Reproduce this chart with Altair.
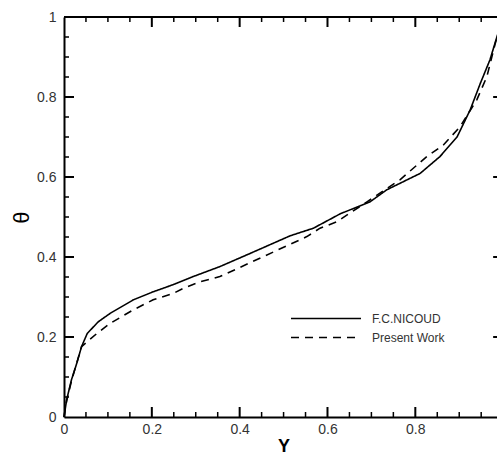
import altair as alt
import pandas as pd

# ---- data ----
series_names = ["F.C.NICOUD", "Present Work"]

nicoud_y = [0.0, 0.006, 0.017, 0.029, 0.040, 0.053, 0.078, 0.105, 0.158, 0.203, 0.249,
            0.294, 0.355, 0.424, 0.515, 0.568, 0.629, 0.697, 0.735, 0.811, 0.856, 0.895,
            0.925, 0.948, 0.970, 0.986, 1.0]
nicoud_theta = [0.0, 0.043, 0.093, 0.134, 0.176, 0.209, 0.238, 0.259, 0.293, 0.313, 0.331,
                0.351, 0.376, 0.409, 0.453, 0.472, 0.508, 0.538, 0.568, 0.609, 0.651, 0.700,
                0.768, 0.834, 0.893, 0.951, 1.0]

present_y = [0.0, 0.006, 0.017, 0.029, 0.040, 0.075, 0.105, 0.158, 0.203, 0.249, 0.272, 0.310,
             0.355, 0.446, 0.553, 0.583, 0.621, 0.690, 0.765, 0.826, 0.864, 0.902, 0.940,
             0.963, 0.982, 1.0]
present_theta = [0.0, 0.040, 0.090, 0.135, 0.176, 0.209, 0.234, 0.268, 0.293, 0.309, 0.322, 0.338,
                 0.351, 0.397, 0.451, 0.472, 0.488, 0.538, 0.593, 0.651, 0.680, 0.726, 0.793,
                 0.851, 0.934, 1.0]

x_labels = [0, 0.2, 0.4, 0.6, 0.8]
y_labels = [0, 0.2, 0.4, 0.6, 0.8, 1.0]
x_major_ticks = [0.2, 0.4, 0.6, 0.8]
x_minor_ticks = [0.05, 0.1, 0.15, 0.25, 0.3, 0.35, 0.45, 0.5, 0.55, 0.65, 0.7, 0.75, 0.85, 0.9, 0.95]
y_major_ticks = [0.2, 0.4, 0.6, 0.8]
y_minor_ticks = [0.05, 0.1, 0.15, 0.25, 0.3, 0.35, 0.45, 0.5, 0.55, 0.65, 0.7, 0.75, 0.85, 0.9, 0.95]

# ---- layout ----
W, H = 433, 400
XMAX = 0.986            # the right edge of the picture cuts the frame just before Y = 1
FONT = "Liberation Sans"
TX_MAJ, TX_MIN = 10 / 439, 5 / 439   # tick lengths in axis units (10 px / 5 px)
TY_MAJ, TY_MIN = 10 / 400, 5 / 400

# one long table: the two curves plus the frame/tick segments (each a 2-point path)
rows = []
for i, (a, b) in enumerate(zip(nicoud_y, nicoud_theta)):
    rows.append({"px": a, "py": b, "series": series_names[0], "sid": "c0", "k": i, "w": 1.6})
for i, (a, b) in enumerate(zip(present_y, present_theta)):
    rows.append({"px": a, "py": b, "series": series_names[1], "sid": "c1", "k": i, "w": 1.6})

n = 0


def seg(x1, y1, x2, y2, w):
    global n
    sid = "t%d" % n
    n += 1
    rows.append({"px": x1, "py": y1, "series": "frame", "sid": sid, "k": 0, "w": w})
    rows.append({"px": x2, "py": y2, "series": "frame", "sid": sid, "k": 1, "w": w})


for v in x_major_ticks:
    seg(v, 0, v, TY_MAJ, 2)
    seg(v, 1, v, 1 - TY_MAJ, 2)
for v in x_minor_ticks:
    seg(v, 0, v, TY_MIN, 1.5)
    seg(v, 1, v, 1 - TY_MIN, 1.5)
for v in y_major_ticks:
    seg(0, v, TX_MAJ, v, 2)
    seg(1 - TX_MAJ, v, XMAX, v, 2)
for v in y_minor_ticks:
    seg(0, v, TX_MIN, v, 1.5)
seg(0, 1, XMAX, 1, 2)
df = pd.DataFrame(rows)

xs = alt.Scale(domain=[0, XMAX], nice=False, zero=False)
ys = alt.Scale(domain=[0, 1], nice=False, zero=False)

x_axis = alt.Axis(
    values=x_labels, format="~g", title="Y", orient="bottom",
    domain=True, domainColor="black", domainWidth=2, ticks=False, grid=False,
    labelFont=FONT, labelFontSize=14, labelColor="#333", labelPadding=5, labelFlush=False,
    titleFont=FONT, titleFontSize=18, titleFontWeight="bold", titleColor="black",
    titleX=219.5, titleY=34, titleBaseline="alphabetic", titleAlign="center")
y_axis = alt.Axis(
    values=y_labels, format="~g", title="θ", orient="left",
    domain=True, domainColor="black", domainWidth=2, ticks=False, grid=False,
    labelFont=FONT, labelFontSize=14, labelColor="#333", labelPadding=8, labelFlush=False,
    titleFont=FONT, titleFontSize=22, titleFontWeight="normal", titleColor="black",
    titleX=-43, titleY=200, titleAngle=270, titleBaseline="middle", titleAlign="center")

chart = alt.Chart(df).mark_line(color="black").encode(
    x=alt.X("px:Q", scale=xs, axis=x_axis),
    y=alt.Y("py:Q", scale=ys, axis=y_axis),
    detail="sid:N",
    order="k:Q",
    strokeWidth=alt.StrokeWidth("w:Q", scale=None, legend=None),
    strokeDash=alt.StrokeDash("series:N",
        scale=alt.Scale(domain=series_names + ["frame"], range=[[1, 0], [8, 6], [1, 0]]),
        legend=alt.Legend(title=None, orient="none", legendX=226, legendY=292,
                          values=series_names,
                          symbolType="stroke", symbolSize=4900, symbolStrokeWidth=1.5,
                          symbolStrokeColor="black", clipHeight=19, rowPadding=0,
                          labelFont=FONT, labelFontSize=12, labelColor="#333",
                          labelOffset=10, padding=0)),
).properties(
    width=W, height=H,
    autosize=alt.AutoSizeParams(type="none"),
    padding={"left": 64, "top": 17, "right": 0, "bottom": 37},
    background="white",
).configure_view(stroke=None)

chart.save("out.html", embed_options={"renderer": "svg", "actions": False})
